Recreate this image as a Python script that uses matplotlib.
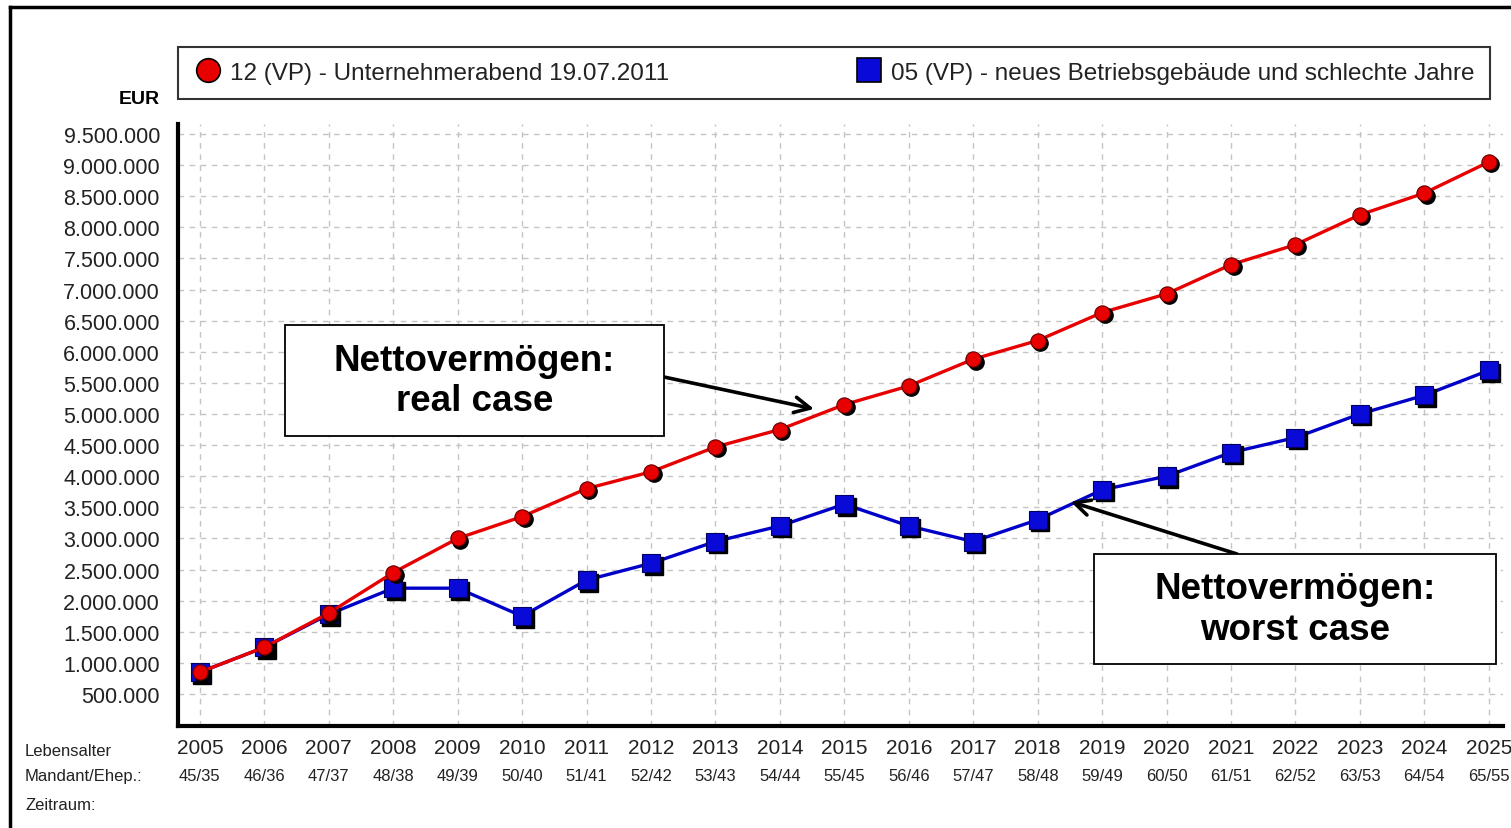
import matplotlib
matplotlib.use("Agg")
import matplotlib.pyplot as plt
import matplotlib.transforms as mtransforms
from matplotlib.lines import Line2D
from matplotlib.patches import Rectangle
from matplotlib.ticker import FuncFormatter

plt.rcParams['font.family'] = ['Liberation Sans', 'DejaVu Sans']

# Data (EUR)
years = list(range(2005, 2026))
ages = ["45/35", "46/36", "47/37", "48/38", "49/39", "50/40", "51/41", "52/42",
        "53/43", "54/44", "55/45", "56/46", "57/47", "58/48", "59/49", "60/50",
        "61/51", "62/52", "63/53", "64/54", "65/55"]
real_case = [850000, 1250000, 1800000, 2450000, 3000000, 3350000, 3800000, 4070000,
             4470000, 4750000, 5150000, 5450000, 5880000, 6180000, 6630000, 6930000,
             7400000, 7720000, 8200000, 8550000, 9050000]
worst_case = [850000, 1250000, 1780000, 2200000, 2200000, 1750000, 2330000, 2600000,
              2950000, 3200000, 3550000, 3200000, 2950000, 3300000, 3780000, 4000000,
              4380000, 4620000, 5000000, 5300000, 5700000]
label_real = "12 (VP) - Unternehmerabend 19.07.2011"
label_worst = "05 (VP) - neues Betriebsgebäude und schlechte Jahre"
yticks = list(range(500000, 10000000, 500000))

W, H = 1511, 829
fig = plt.figure(figsize=(W / 100, H / 100), dpi=100)
ax = fig.add_axes([178 / W, 1 - 727 / H, (1503 - 178) / W, (727 - 125) / H])

red = '#e80000'
blue = '#0a0ad8'
shadow = mtransforms.offset_copy(ax.transData, fig=fig, x=2.5, y=-2.5, units='dots')

# blue series below red
ax.plot(years, worst_case, color='#0000c8', lw=2.4, zorder=3)
ax.plot(years, worst_case, 's', color='black', ms=12.5, transform=shadow, zorder=4)
ax.plot(years, worst_case, 's', color=blue, mec='#000060', mew=0.8, ms=12.5, zorder=5)

ax.plot(years, real_case, color=red, lw=2.4, zorder=6)
ax.plot(years, real_case, 'o', color='black', ms=11, transform=shadow, zorder=7)
ax.plot(years, real_case, 'o', color=red, mec='#600000', mew=0.8, ms=11, zorder=8)

ax.set_xlim(2004.66, 2025.22)
ax.set_ylim(-15000, 9660000)
ax.set_xticks(years)
ax.set_yticks(yticks)
ax.yaxis.set_major_formatter(FuncFormatter(lambda v, p: f"{v:,.0f}".replace(',', '.')))
ax.tick_params(axis='both', length=0, colors='#222222')
ax.tick_params(axis='y', pad=13, labelsize=15.5)
ax.tick_params(axis='x', pad=9, labelsize=15)
ax.grid(True, color='#c4c4c4', ls=(0, (4, 4)), lw=1)
for s in ['top', 'right']:
    ax.spines[s].set_visible(False)
for s in ['left', 'bottom']:
    ax.spines[s].set_linewidth(3)
    ax.spines[s].set_color('black')

# age row under years
for yr, ag in zip(years, ages):
    ax.text(yr, -0.083, ag, transform=ax.get_xaxis_transform(), ha='center', va='center',
            fontsize=12, color='#222222')

fig.text(25 / W, 1 - 752 / H, "Lebensalter", fontsize=12, va='center', color='#222222')
fig.text(25 / W, 1 - 777 / H, "Mandant/Ehep.:", fontsize=12, va='center', color='#222222')
fig.text(25 / W, 1 - 806 / H, "Zeitraum:", fontsize=12, va='center', color='#222222')
fig.text(160 / W, 1 - 99 / H, "EUR", fontsize=14, fontweight='bold', ha='right', va='center')

# legend
handles = [Line2D([], [], marker='o', ls='none', color=red, mec='black', mew=1.2, ms=17),
           Line2D([], [], marker='s', ls='none', color=blue, mec='black', mew=1.2, ms=17)]
leg = ax.legend(handles, [label_real, label_worst], ncol=2, mode='expand',
                bbox_to_anchor=(0, (727 - 100) / (727 - 125), 0.99, 53 / (727 - 125)),
                loc='lower left', borderaxespad=0, fontsize=17.5, frameon=True,
                fancybox=False, handletextpad=0.3, borderpad=0.62, handlelength=1.2)
leg.get_frame().set_edgecolor('black')
leg.get_frame().set_linewidth(1.5)
for t in leg.get_texts():
    t.set_color('#222222')

# annotation boxes
def note_box(x0, y0, x1, y1, text, tip, start):
    fig.patches.append(Rectangle((x0 / W, 1 - y1 / H), (x1 - x0) / W, (y1 - y0) / H,
                                 transform=fig.transFigure, fill=True, facecolor='white',
                                 edgecolor='black', lw=1.3, zorder=10))
    fig.text((x0 + x1) / 2 / W, 1 - (y0 + y1) / 2 / H, text, ha='center', va='center',
             fontsize=26.5, fontweight='bold', linespacing=1.22, zorder=11)
    ax.annotate("", xy=tip, xycoords='data', xytext=(start[0] / W, 1 - start[1] / H),
                textcoords='figure fraction', zorder=12,
                arrowprops=dict(arrowstyle='->', lw=2.6, color='black',
                                mutation_scale=28, shrinkA=0, shrinkB=0))

note_box(285, 326, 664, 437, "Nettovermögen:\nreal case", (2014.53, 5080000), (664, 378))
note_box(1094, 555, 1496, 665, "Nettovermögen:\nworst case", (2018.51, 3590000), (1237, 555))

# outer frame (left and top edges)
fig.lines.append(Line2D([10 / W, 10 / W], [0, 1 - 8 / H], transform=fig.transFigure,
                        color='black', lw=2.5))
fig.lines.append(Line2D([10 / W, 1], [1 - 8 / H, 1 - 8 / H], transform=fig.transFigure,
                        color='black', lw=2.5))

fig.savefig("out.png", dpi=100)
